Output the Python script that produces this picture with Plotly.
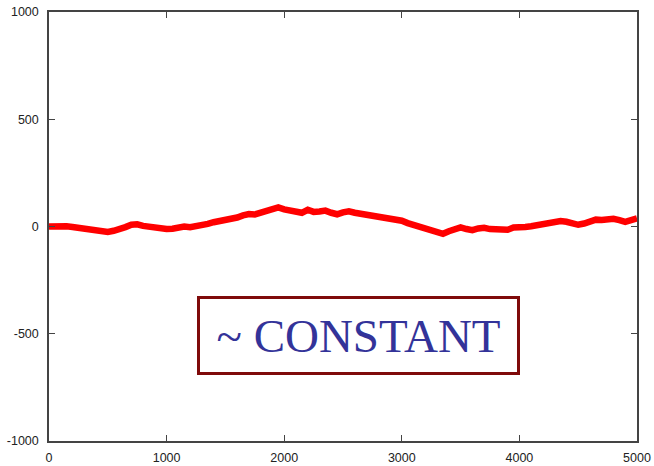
import plotly.graph_objects as go

# Sampled trajectory (step index vs. value)
steps = list(range(0, 5001, 50))
values = [
    0, 2, -1, 1, -2, -5, -12, -10, -18, -22,
    -25, -20, -14, -3, 8, 10, 3, -2, -5, -8,
    -12, -10, -4, 0, -3, 1, 2, 12, 20, 24,
    30, 36, 42, 52, 58, 56, 64, 74, 84, 89,
    80, 75, 70, 64, 78, 68, 70, 74, 64, 57,
    66, 71, 64, 60, 52, 47, 44, 38, 35, 31,
    27, 16, 8, -2, -11, -20, -27, -34, -22, -12,
    -4, -12, -17, -9, -6, -12, -14, -12, -15, -5,
    0, -2, 1, 6, 16, 19, 21, 25, 22, 14,
    8, 14, 26, 32, 30, 36, 36, 30, 22, 30,
    38,
]

x_ticks = [0, 1000, 2000, 3000, 4000, 5000]
y_ticks = [-1000, -500, 0, 500, 1000]
y_tick_labels = ["-1000", "-500", "0", "500", "1000"]
label_text = "~ CONSTANT"

fig = go.Figure()
fig.add_trace(go.Scatter(
    x=steps, y=values, mode="lines",
    line=dict(color="#ff0000", width=6.5),
    showlegend=False,
))

axis_style = dict(
    showline=True, linecolor="#444444", linewidth=1.5, mirror="ticks",
    ticks="inside", ticklen=6, tickwidth=1, tickcolor="#444444",
    showgrid=False, zeroline=False, automargin=False,
    tickfont=dict(family="Liberation Sans, Arial, sans-serif", size=12.5, color="#222222"),
)

fig.update_xaxes(range=[0, 5000], tickvals=x_ticks, ticklabelstandoff=4, **axis_style)
fig.update_yaxes(range=[-1000, 1000], tickvals=y_ticks, ticktext=y_tick_labels,
                 ticklabelstandoff=6, **axis_style)

fig.add_annotation(
    xref="paper", yref="paper", x=0.526, y=0.245,
    xanchor="center", yanchor="middle",
    text=label_text, showarrow=False,
    font=dict(family="Liberation Serif, Times New Roman, serif", size=47, color="#333399"),
    bordercolor="#7f0a0a", borderwidth=3, borderpad=0,
    bgcolor="white", width=317, height=73,
)

fig.update_layout(
    width=654, height=466,
    margin=dict(l=49, r=16.5, t=12, b=25),
    plot_bgcolor="white", paper_bgcolor="white",
)

fig.write_html("out.html")
